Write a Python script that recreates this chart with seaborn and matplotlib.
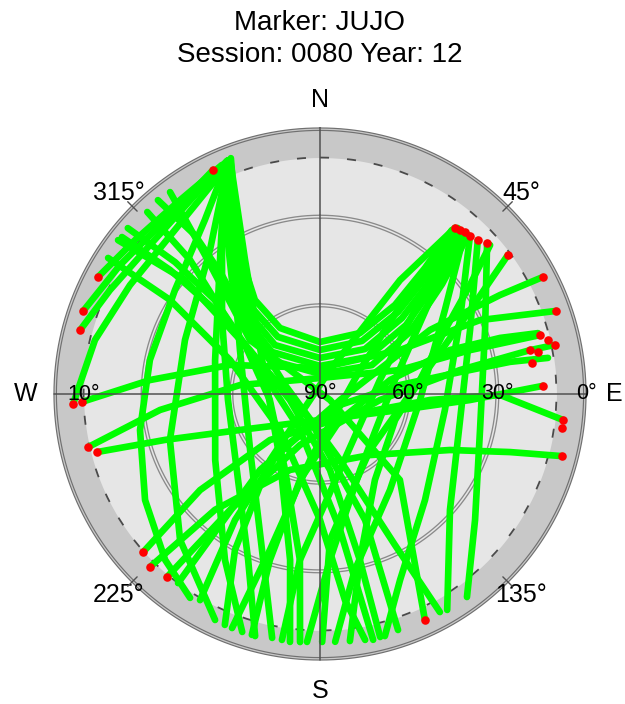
import numpy as np
import pandas as pd
import matplotlib
matplotlib.use("Agg")
import matplotlib.pyplot as plt
import seaborn as sns

sns.set_theme(style="white")
plt.rcParams["font.family"] = ["Liberation Sans", "DejaVu Sans"]
plt.rcParams["text.color"] = "black"

# Satellite tracks: azimuth (deg from north, clockwise) and elevation (deg)
sv01_az = [339.3, 335.2, 329.8, 325.3, 328.8, 360.0, 33.3, 40.1, 39.8, 38.8]
sv01_el = [4.7, 21.4, 37.6, 51.3, 63.9, 72.4, 65.3, 50.6, 34.5, 18.8]
sv02_az = [338.7, 334.1, 328.2, 321.7, 323.6, 360.0, 38.4, 43.6, 42.0, 39.8]
sv02_el = [5.1, 22.7, 38.6, 52.9, 66.0, 75.1, 67.1, 51.7, 34.4, 18.2]
sv03_az = [338.2, 333.2, 326.5, 318.5, 317.4, 360.0, 45.0, 47.2, 44.0, 40.8]
sv03_el = [5.1, 23.3, 39.7, 54.3, 67.5, 77.8, 68.5, 52.2, 34.5, 17.6]
sv04_az = [337.6, 331.9, 324.5, 315.4, 311.2, 360.0, 52.4, 51.3, 46.0, 41.8]
sv04_el = [5.5, 24.0, 40.5, 54.8, 68.4, 80.5, 69.5, 52.7, 34.5, 16.9]
sv05_az = [337.3, 330.8, 322.3, 311.8, 304.2, 360.0, 60.9, 55.4, 48.0, 43.0]
sv05_el = [5.7, 24.9, 41.3, 55.5, 69.5, 83.2, 69.9, 53.0, 34.4, 16.5]
sv06_az = [284.9, 296.3, 311.2, 327.9, 338.5]
sv06_el = [6.0, 10.7, 13.5, 10.5, 5.0]
sv07_az = [289.3, 302.8, 318.3, 334.5]
sv07_el = [5.1, 9.5, 11.2, 6.0]
sv08_az = [297.8, 309.8, 324.2, 336.8]
sv08_el = [5.1, 8.6, 9.1, 5.7]
sv09_az = [267.7, 283.5, 299.8, 318.5, 337.2]
sv09_el = [6.4, 11.7, 15.9, 15.9, 7.1]
sv10_az = [302.7, 302.1, 290.7, 228.0, 180.0, 173.1, 169.6]
sv10_el = [4.8, 30.1, 57.5, 71.8, 47.4, 19.8, 5.4]
sv11_az = [307.3, 310.2, 303.2, 209.1, 171.6, 167.8]
sv11_el = [4.1, 30.2, 59.7, 76.1, 43.5, 4.9]
sv12_az = [316.5, 315.9, 304.0, 201.0, 160.3, 161.7]
sv12_el = [5.1, 26.8, 57.4, 80.6, 44.7, 5.9]
sv13_az = [323.4, 320.4, 307.6, 121.0, 137.1, 155.1]
sv13_el = [4.9, 29.0, 60.1, 86.0, 50.3, 5.7]
sv14_az = [308.4, 309.6, 308.7, 302.1, 258.7, 172.5, 166.5, 166.1]
sv14_el = [4.5, 24.2, 44.5, 62.0, 79.6, 64.1, 32.2, 5.3]
sv15_az = [320.1, 321.8, 320.5, 313.8, 284.4, 163.1, 153.6, 151.2]
sv15_el = [4.5, 21.6, 37.8, 56.3, 77.8, 66.7, 33.0, 5.8]
sv16_az = [338.5, 328.6, 298.8, 231.3, 200.4, 191.1]
sv16_el = [5.0, 32.9, 59.1, 59.7, 33.7, 5.9]
sv17_az = [337.5, 323.3, 287.9, 237.8, 209.8, 198.1]
sv17_el = [6.1, 33.4, 52.7, 48.1, 25.3, 5.3]
sv18_az = [338.4, 322.6, 291.8, 253.0, 223.8, 204.9]
sv18_el = [5.6, 28.7, 40.8, 36.9, 21.6, 5.7]
sv19_az = [339.0, 330.8, 300.4, 211.2, 190.2, 186.9]
sv19_el = [5.2, 38.0, 67.3, 63.9, 32.9, 5.5]
sv20_az = [338.2, 326.5, 305.7, 281.3, 258.7, 238.8, 223.0, 212.5]
sv20_el = [5.5, 19.4, 29.6, 31.3, 27.9, 20.8, 13.2, 8.2]
sv21_az = [39.7, 49.5, 79.4, 152.2, 176.6, 183.0]
sv21_el = [17.0, 41.0, 64.2, 60.9, 33.7, 6.0]
sv22_az = [41.8, 56.1, 93.4, 143.9, 168.8, 176.5]
sv22_el = [16.5, 39.1, 56.1, 49.8, 29.3, 6.0]
sv23_az = [43.5, 62.1, 97.3, 135.3, 156.7, 165.0]
sv23_el = [16.3, 36.4, 47.4, 39.5, 21.5, 5.2]
sv24_az = [45.7, 66.9, 100.5, 131.7, 149.5]
sv24_el = [15.4, 34.8, 41.8, 31.1, 5.2]
sv25_az = [39.1, 40.9, 59.0, 188.6, 197.8, 200.6]
sv25_el = [17.6, 43.5, 74.2, 67.4, 34.6, 5.4]
sv26_az = [40.5, 46.8, 76.9, 165.3, 186.9, 188.8]
sv26_el = [17.1, 43.6, 69.2, 63.4, 33.4, 5.8]
sv27_az = [47.9, 68.8, 102.7, 129.1, 144.1]
sv27_el = [13.8, 30.1, 34.5, 22.4, 5.2]
sv28_az = [39.1, 35.1, 22.6, 217.1, 208.6, 202.4]
sv28_el = [17.6, 42.9, 81.2, 62.0, 29.9, 5.5]
sv29_az = [53.5, 60.8, 82.0, 138.2, 176.1, 179.5]
sv29_el = [10.9, 31.8, 55.8, 64.6, 40.5, 6.1]
sv30_az = [257.1, 264.3, 276.4, 360.0, 73.3, 73.7, 75.0]
sv30_el = [9.5, 35.6, 62.8, 84.6, 61.8, 37.1, 12.9]
sv31_az = [255.4, 253.5, 245.8, 180.0, 101.3, 92.3, 87.9]
sv31_el = [12.1, 35.3, 60.3, 81.2, 62.4, 39.2, 14.5]
sv32_az = [268.1, 274.7, 287.9, 360.0, 61.2, 65.2, 70.6]
sv32_el = [9.4, 32.3, 58.0, 81.2, 59.1, 30.4, 5.4]
sv33_az = [228.2, 231.3, 227.4, 125.0, 93.1, 90.3, 96.1]
sv33_el = [9.7, 38.0, 67.0, 77.6, 52.7, 29.1, 7.3]
sv34_az = [224.5, 222.2, 201.5, 140.7, 113.3, 107.0, 104.4]
sv34_el = [8.0, 37.1, 62.4, 63.3, 42.1, 22.8, 5.5]
sv35_az = [219.9, 217.8, 201.4, 95.7, 80.3, 78.2, 78.2]
sv35_el = [9.3, 40.3, 71.5, 69.6, 42.0, 17.4, 8.8]
sv36_az = [216.9, 218.3, 106.7, 59.8, 61.2, 62.3]
sv36_el = [10.0, 57.3, 82.9, 46.9, 20.5, 4.8]
sv37_az = [195.8, 196.8, 193.1, 142.4, 78.7, 71.3, 72.7, 74.4]
sv37_el = [5.3, 31.3, 60.1, 78.9, 65.8, 43.6, 26.2, 13.4]
sv38_az = [210.2, 214.0, 215.5, 118.8, 83.6, 81.1, 80.4, 81.0]
sv38_el = [9.3, 38.6, 66.7, 82.3, 62.8, 42.1, 24.8, 11.9]
sv39_az = [310.8, 312.3, 311.8, 303.2, 263.2, 204.7, 186.9, 184.6]
sv39_el = [4.1, 23.7, 42.3, 59.7, 72.9, 61.7, 33.4, 5.8]
sv40_az = [173.1, 166.5, 147.4, 109.1, 82.0, 62.9, 54.0, 48.8]
sv40_el = [5.8, 32.2, 55.5, 63.1, 55.8, 42.5, 27.3, 13.5]
sv41_az = [337.9, 327.5, 307.0, 266.3, 223.6, 203.4, 195.0]
sv41_el = [5.3, 28.3, 48.5, 58.8, 49.8, 28.8, 5.2]

# Flagged low-elevation observations
flag_az = [334.5, 297.8, 289.3, 284.9, 267.7, 268.1, 257.1, 255.4, 228.2, 224.5,
           219.9, 155.1, 39.1, 40.5, 41.8, 43.5, 45.7, 47.9, 53.5, 62.3, 70.6,
           75.0, 76.7, 78.2, 78.2, 79.1, 81.7, 87.9, 96.1, 98.0, 104.4]
flag_el = [6.0, 5.1, 5.1, 6.0, 6.4, 9.4, 9.5, 12.1, 9.7, 8.0,
           9.3, 5.7, 17.6, 17.1, 16.5, 16.3, 15.4, 13.8, 10.9, 4.8, 5.4,
           12.9, 10.7, 8.8, 17.4, 14.9, 17.5, 14.5, 7.3, 7.3, 5.5]

# Rings and labels
elev_rings = [60, 30]          # double-line circles (elevation, deg)
mask_elev = 10                 # dashed elevation mask
elev_labels = [("90°", 90, 90), ("60°", 90, 60), ("30°", 90, 30),
               ("0°", 90, 0), ("10°", 270, 10)]
compass = [("N", 0), ("E", 90), ("S", 180), ("W", 270)]
diag_labels = [("45°", 45), ("135°", 135), ("225°", 225), ("315°", 315)]

n_tracks = 41
tracks = [(f"SV{i:02d}", globals()[f"sv{i:02d}_az"], globals()[f"sv{i:02d}_el"])
          for i in range(1, n_tracks + 1)]

rows = []
for name, az, el in tracks:
    for a, e in zip(az, el):
        rows.append((name, np.deg2rad(a), 90.0 - e))
df = pd.DataFrame(rows, columns=["sat", "theta", "zd"])
flags = pd.DataFrame({"theta": np.deg2rad(flag_az), "zd": 90.0 - np.array(flag_el)})

fig = plt.figure(figsize=(6.25, 7.04), dpi=100)
ax = fig.add_axes([54 / 625, 44 / 704, 532 / 625, 532 / 704], projection="polar")
ax.set_theta_zero_location("N")
ax.set_theta_direction(-1)
ax.set_facecolor("#c8c8c8")
ax.grid(False)
ax.spines["polar"].set_visible(False)

ring = np.linspace(0, 2 * np.pi, 721)
ax.fill_between(ring, 0, 90 - mask_elev, color="#e6e6e6", lw=0, zorder=0.5)
for e in elev_rings:
    ax.plot(ring, np.full_like(ring, 90 - e), color="#8a8a8a", lw=3.0, zorder=1)
    ax.plot(ring, np.full_like(ring, 90 - e), color="#e6e6e6", lw=1.1, zorder=1.1)
ax.plot(ring, np.full_like(ring, 90 - mask_elev), color="#4a4a4a", lw=1.3,
        ls=(0, (5, 10)), zorder=1.2)
ax.plot(ring, np.full_like(ring, 89.6), color="#707070", lw=2.6, zorder=1.3, clip_on=False)
ax.plot(ring, np.full_like(ring, 89.6), color="#c8c8c8", lw=0.9, zorder=1.4, clip_on=False)

sns.lineplot(data=df, x="theta", y="zd", units="sat", estimator=None, sort=False,
             color="#00ff00", linewidth=4.8, solid_capstyle="round",
             solid_joinstyle="round", ax=ax, legend=False, zorder=3)
sns.scatterplot(data=flags, x="theta", y="zd", color="#ff0000", s=38, linewidth=0,
                ax=ax, legend=False, zorder=4)

# Cross hairs and diagonal ticks
ax.plot([0, 0, np.pi], [90, 0, 90], color="#505050", lw=1.1, zorder=5, clip_on=False)
ax.plot([np.pi / 2, np.pi / 2, 3 * np.pi / 2], [90, 0, 90], color="#505050", lw=1.1,
        zorder=5, clip_on=False)
for _, a in diag_labels:
    t = np.deg2rad(a)
    ax.plot([t, t], [87.5, 92.0], color="#505050", lw=1.0, zorder=5, clip_on=False)

ax.set_xlim(0, 2 * np.pi)
ax.set_ylim(0, 90)
ax.set_xticks([])
ax.set_yticks([])
ax.set_xlabel("")
ax.set_ylabel("")

for txt, a, e in elev_labels:
    ax.text(np.deg2rad(a), 90 - e, txt, ha="center", va="center", fontsize=15.5,
            color="black", zorder=6)
for txt, a in compass:
    ax.text(np.deg2rad(a), 99.5 if txt != "S" else 100.5, txt, ha="center",
            va="center", fontsize=18, color="black", clip_on=False)
for txt, a in diag_labels:
    ax.text(np.deg2rad(a), 96.2, txt, ha="center", va="center", fontsize=18,
            color="black", clip_on=False)

fig.text(320 / 625, 1 - 23 / 704, "Marker: JUJO", ha="center", va="center", fontsize=20)
fig.text(320 / 625, 1 - 55 / 704, "Session: 0080 Year: 12", ha="center", va="center",
         fontsize=20)

fig.savefig("out.png", dpi=100)
